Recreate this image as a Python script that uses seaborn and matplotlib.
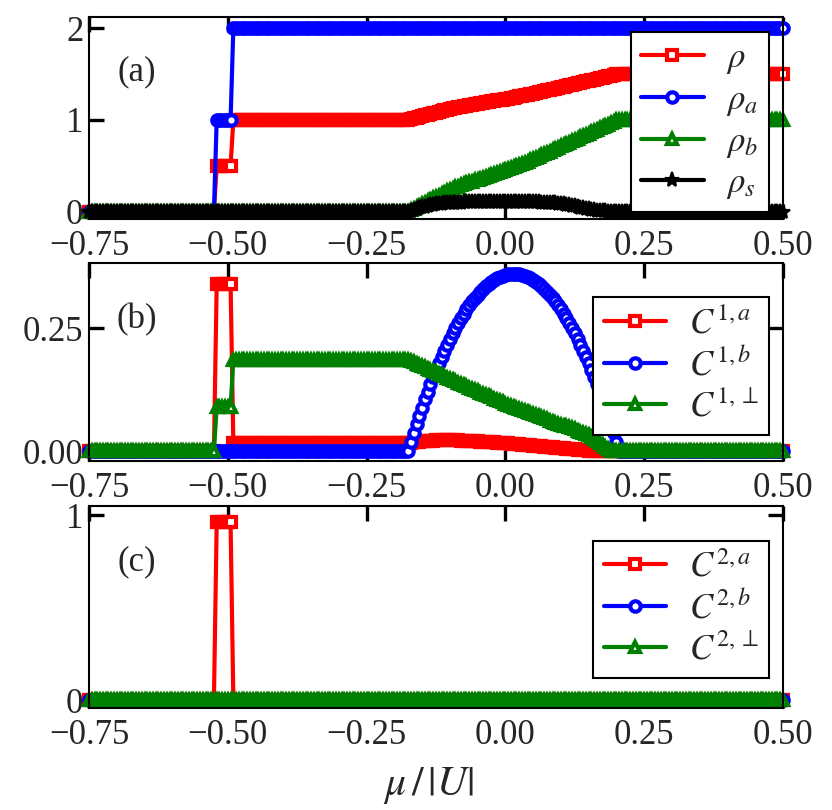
import numpy as np
import pandas as pd
import seaborn as sns
import matplotlib
matplotlib.use("Agg")
import matplotlib.pyplot as plt
from matplotlib.lines import Line2D

# ---------------- data ----------------
# chemical potential grid mu/|U| from -0.75 to 0.50, step 0.005 (251 points)
mu = np.round(np.linspace(-0.75, 0.5, 251), 3)

# run lengths of the regions of the grid
N_LO, N_JUMP, N_PLAT, N_HI = 46, 6, 64, 60   # + 75 points of the curved region

rho_curve = [1.008, 1.016, 1.024, 1.032, 1.040, 1.048, 1.056, 1.064, 1.072, 1.080,
             1.088, 1.096, 1.104, 1.112, 1.120,
             1.126, 1.132, 1.137, 1.143, 1.148, 1.154, 1.159, 1.164, 1.170, 1.175,
             1.180, 1.186, 1.191, 1.196, 1.201, 1.206, 1.211, 1.216, 1.221, 1.226,
             1.231, 1.237, 1.243, 1.249, 1.255, 1.261, 1.267, 1.273, 1.279, 1.286,
             1.292, 1.299, 1.306, 1.313, 1.320,
             1.327, 1.334, 1.341, 1.348, 1.355, 1.362, 1.369, 1.376, 1.383, 1.390,
             1.397, 1.404, 1.411, 1.418, 1.425, 1.432, 1.439, 1.446, 1.453, 1.460,
             1.467, 1.474, 1.482, 1.491, 1.500]
rho_b_curve = [0.016, 0.032, 0.048, 0.064, 0.080, 0.096, 0.112, 0.128, 0.144, 0.160,
               0.176, 0.192, 0.208, 0.224, 0.240,
               0.252, 0.264, 0.274, 0.286, 0.296, 0.308, 0.318, 0.328, 0.340, 0.350,
               0.360, 0.372, 0.382, 0.392, 0.402, 0.412, 0.422, 0.432, 0.442, 0.452,
               0.462, 0.474, 0.486, 0.498, 0.510, 0.522, 0.534, 0.546, 0.558, 0.572,
               0.584, 0.598, 0.612, 0.626, 0.640,
               0.654, 0.668, 0.682, 0.696, 0.710, 0.724, 0.738, 0.752, 0.766, 0.780,
               0.794, 0.808, 0.822, 0.836, 0.850, 0.864, 0.878, 0.892, 0.906, 0.920,
               0.934, 0.948, 0.964, 0.982, 1.000]
rho_s_curve = [0.010, 0.020, 0.030, 0.040, 0.048, 0.056, 0.063, 0.069, 0.074, 0.079,
               0.083, 0.087, 0.090, 0.092, 0.094, 0.096, 0.097, 0.098, 0.099,
               0.100, 0.100, 0.100, 0.100, 0.100, 0.100, 0.100, 0.100, 0.100, 0.100,
               0.100, 0.100, 0.100, 0.100, 0.100, 0.100, 0.100, 0.100, 0.100, 0.100,
               0.100, 0.100, 0.100, 0.100, 0.100, 0.100, 0.100, 0.100,
               0.099, 0.098, 0.097, 0.095, 0.093, 0.090, 0.087, 0.083, 0.079, 0.074,
               0.069, 0.063, 0.057, 0.051, 0.045, 0.039, 0.033, 0.027, 0.022, 0.017,
               0.012, 0.008, 0.005, 0.003, 0.001, 0.000, 0.000, 0.000]

c1a_curve = [0.017, 0.018, 0.019, 0.019, 0.020, 0.020, 0.021, 0.021, 0.021, 0.022,
             0.022, 0.022, 0.022, 0.022, 0.022, 0.022, 0.022, 0.022, 0.021,
             0.021, 0.021, 0.021, 0.020, 0.020, 0.020, 0.019, 0.019, 0.019, 0.018,
             0.018, 0.018, 0.017, 0.017, 0.016, 0.016,
             0.016, 0.015, 0.015, 0.014, 0.014, 0.013, 0.013, 0.012, 0.012, 0.011,
             0.011, 0.010, 0.010, 0.009, 0.009, 0.008, 0.008, 0.007, 0.007, 0.006,
             0.006, 0.005, 0.005, 0.004, 0.004, 0.003, 0.003, 0.002, 0.002, 0.001,
             0.001, 0.001, 0.000, 0.000, 0.000, 0.000, 0.000, 0.000, 0.000, 0.000]
c1b_curve = [0.019, 0.037, 0.055, 0.072, 0.088, 0.105, 0.120, 0.136, 0.150, 0.165,
             0.178, 0.191, 0.204, 0.216, 0.228, 0.239, 0.250, 0.260, 0.270, 0.279,
             0.288, 0.296, 0.304, 0.311, 0.318, 0.324, 0.330, 0.335, 0.340, 0.344,
             0.348, 0.351, 0.354, 0.356, 0.358, 0.359, 0.360, 0.360, 0.360, 0.359,
             0.358, 0.356, 0.354, 0.351, 0.348, 0.344, 0.340, 0.335, 0.330, 0.324,
             0.318, 0.311, 0.304, 0.296, 0.288, 0.279, 0.270, 0.260, 0.250, 0.239,
             0.228, 0.216, 0.204, 0.191, 0.178, 0.165, 0.150, 0.136, 0.120, 0.105,
             0.088, 0.072, 0.055, 0.037, 0.019]
c1p_curve = [0.182, 0.180, 0.177, 0.175, 0.172, 0.170, 0.167, 0.165, 0.162, 0.160,
             0.157, 0.155, 0.152, 0.149, 0.147, 0.144, 0.142, 0.139, 0.137, 0.134,
             0.132, 0.129, 0.127, 0.124, 0.122, 0.119, 0.116, 0.114, 0.111, 0.109,
             0.106, 0.104, 0.101, 0.099, 0.096, 0.094, 0.092, 0.090, 0.088, 0.086,
             0.083, 0.081, 0.079, 0.077, 0.075, 0.073, 0.071, 0.069, 0.067, 0.065,
             0.062, 0.060, 0.058, 0.056, 0.054, 0.052, 0.050, 0.048, 0.046, 0.044,
             0.041, 0.039, 0.037, 0.035, 0.033, 0.029, 0.025, 0.021, 0.016, 0.012,
             0.008, 0.004, 0.000, 0.000, 0.000]

rho   = [0.0]*N_LO + [0.5]*N_JUMP + [1.0]*N_PLAT + rho_curve + [1.5]*N_HI
rho_a = [0.0]*N_LO + [1.0]*N_JUMP + [2.0]*N_PLAT + [2.0]*75 + [2.0]*N_HI
rho_b = [0.0]*N_LO + [0.0]*N_JUMP + [0.0]*N_PLAT + rho_b_curve + [1.0]*N_HI
rho_s = [0.0]*N_LO + [0.0]*N_JUMP + [0.0]*N_PLAT + rho_s_curve + [0.0]*N_HI

c1_a  = [0.0]*N_LO + [0.34]*N_JUMP + [0.016]*N_PLAT + c1a_curve + [0.0]*N_HI
c1_b  = [0.0]*N_LO + [0.0]*N_JUMP + [0.0]*N_PLAT + c1b_curve + [0.0]*N_HI
c1_p  = [0.0]*N_LO + [0.09]*N_JUMP + [0.185]*N_PLAT + c1p_curve + [0.0]*N_HI

c2_a  = [0.0]*N_LO + [0.96]*N_JUMP + [0.0]*N_PLAT + [0.0]*75 + [0.0]*N_HI
c2_b  = [0.0]*251
c2_p  = [0.0]*251

x_ticks = [-0.75, -0.50, -0.25, 0.00, 0.25, 0.50]
x_tick_labels = ["\u22120.75", "\u22120.50", "\u22120.25", "0.00", "0.25", "0.50"]

# ---------------- style ----------------
sns.set_style("ticks")
plt.rcParams["font.family"] = ["Liberation Serif", "DejaVu Serif"]
plt.rcParams["mathtext.fontset"] = "stix"
plt.rcParams["axes.linewidth"] = 1.5
plt.rcParams["axes.edgecolor"] = "black"

FS = 25
RED, BLUE, GREEN, BLACK = "#ff0000", "#0000ff", "#008000", "#000000"
LW, MS, MEW = 3.0, 7.5, 3.0
STAR_MS, STAR_MEW = 11, 1.5

fig = plt.figure(figsize=(8.32, 8.10), dpi=100)
left, width = 0.107, 0.834
ax_a = fig.add_axes([left, 0.7296, width, 0.2494])
ax_b = fig.add_axes([left, 0.4309, width, 0.2444])
ax_c = fig.add_axes([left, 0.1259, width, 0.2494])


def draw(ax, y, color, marker, face="white", ms=MS, mew=MEW):
    df = pd.DataFrame({"mu": mu, "v": y})
    sns.lineplot(data=df, x="mu", y="v", ax=ax, color=color, lw=LW,
                 marker=marker, markersize=ms, markerfacecolor=face,
                 markeredgecolor=color, markeredgewidth=mew, clip_on=False,
                 estimator=None, sort=False, legend=False)


def handle(color, marker, face="white", ms=MS, mew=MEW):
    return Line2D([], [], color=color, lw=LW, marker=marker, markersize=ms,
                  markerfacecolor=face, markeredgecolor=color, markeredgewidth=mew)


# panel (a)
draw(ax_a, rho, RED, "s")
draw(ax_a, rho_a, BLUE, "o")
draw(ax_a, rho_b, GREEN, "^")
draw(ax_a, rho_s, BLACK, "*", face=BLACK, ms=STAR_MS, mew=STAR_MEW)
# panel (b)
draw(ax_b, c1_a, RED, "s")
draw(ax_b, c1_b, BLUE, "o")
draw(ax_b, c1_p, GREEN, "^")
# panel (c)
draw(ax_c, c2_a, RED, "s")
draw(ax_c, c2_b, BLUE, "o")
draw(ax_c, c2_p, GREEN, "^")

ax_a.set_ylim(-0.08, 2.12)
ax_a.set_yticks([0, 1, 2])
ax_a.set_yticklabels(["0", "1", "2"])
ax_b.set_ylim(-0.02, 0.382)
ax_b.set_yticks([0.0, 0.25])
ax_b.set_yticklabels(["0.00", "0.25"])
ax_c.set_ylim(-0.043, 1.049)
ax_c.set_yticks([0, 1])
ax_c.set_yticklabels(["0", "1"])

for ax in (ax_a, ax_b, ax_c):
    ax.set_xlim(-0.75, 0.5)
    ax.set_xticks(x_ticks)
    ax.set_xticklabels(x_tick_labels)
    ax.set_xlabel("")
    ax.set_ylabel("")
    ax.tick_params(which="major", direction="in", top=True, right=True,
                   length=11, width=2.4, labelsize=FS, color="black")
    ax.tick_params(axis="x", pad=8)
    ax.tick_params(axis="y", pad=4)
    ax.minorticks_off()
    for s in ax.spines.values():
        s.set_visible(True)
        s.set_linewidth(1.5)
        s.set_color("black")
        s.set_zorder(5)

leg_kw = dict(loc="upper right", fontsize=FS, frameon=True, fancybox=False,
              framealpha=1, edgecolor="black", handlelength=1.8,
              handletextpad=0.65, labelspacing=0.22, borderpad=0.3,
              borderaxespad=0.0)

lg = ax_a.legend([handle(RED, "s"), handle(BLUE, "o"), handle(GREEN, "^"),
                  handle(BLACK, "*", face=BLACK, ms=STAR_MS, mew=STAR_MEW)],
                 [r"$\rho$", r"$\rho_a$", r"$\rho_b$", r"$\rho_s$"],
                 bbox_to_anchor=(0.98, 0.926), **leg_kw)
lg.get_frame().set_linewidth(1.5)
lg = ax_b.legend([handle(RED, "s"), handle(BLUE, "o"), handle(GREEN, "^")],
                 [r"$C^{1,a}$", r"$C^{1,b}$", r"$C^{1,\perp}$"],
                 bbox_to_anchor=(0.98, 0.828), **leg_kw)
lg.get_frame().set_linewidth(1.5)
lg = ax_c.legend([handle(RED, "s"), handle(BLUE, "o"), handle(GREEN, "^")],
                 [r"$C^{2,a}$", r"$C^{2,b}$", r"$C^{2,\perp}$"],
                 bbox_to_anchor=(0.98, 0.827), **leg_kw)
lg.get_frame().set_linewidth(1.5)

ax_a.text(0.069, 0.728, "(a)", transform=ax_a.transAxes, fontsize=FS,
          ha="center", va="center")
ax_b.text(0.069, 0.712, "(b)", transform=ax_b.transAxes, fontsize=FS,
          ha="center", va="center")
ax_c.text(0.069, 0.723, "(c)", transform=ax_c.transAxes, fontsize=FS,
          ha="center", va="center")

fig.text(428 / 832, 1 - 785 / 810, r"$\mu\,/\,|U|$", fontsize=30,
         ha="center", va="center")

fig.savefig("out.png", dpi=100)
